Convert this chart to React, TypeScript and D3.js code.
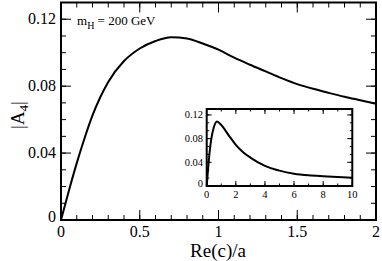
import React from "react";
import * as d3 from "d3";

const mainX = [0, 0.05, 0.1, 0.15, 0.2, 0.25, 0.3, 0.4, 0.5, 0.6, 0.7, 0.8, 0.9, 1.0, 1.1, 1.2, 1.3, 1.4, 1.5, 1.6, 1.7, 1.8, 1.9, 2.0];
const mainY = [0, 0.0175, 0.034, 0.049, 0.0625, 0.0735, 0.0825, 0.095, 0.1025, 0.107, 0.1093, 0.1085, 0.1055, 0.1018, 0.097, 0.0928, 0.0888, 0.0848, 0.0812, 0.0784, 0.076, 0.0737, 0.0716, 0.0695];

const insetX = [0, 0.1, 0.2, 0.3, 0.5, 0.7, 1, 1.5, 2, 2.5, 3, 4, 5, 6, 7, 8, 9, 10];
const insetY = [0, 0.03, 0.057, 0.077, 0.1, 0.109, 0.103, 0.086, 0.0695, 0.057, 0.048, 0.034, 0.026, 0.0208, 0.018, 0.0165, 0.0153, 0.014];

const mainXTicks = [0, 0.5, 1, 1.5, 2];
const mainXTickLabels = ["0", "0.5", "1", "1.5", "2"];
const mainYTicks = [0, 0.04, 0.08, 0.12];
const mainYTickLabels = ["0", "0.04", "0.08", "0.12"];
const insetXTicks = [0, 2, 4, 6, 8, 10];
const insetYTicks = [0, 0.04, 0.08, 0.12];
const insetYTickLabels = ["0", "0.04", "0.08", "0.12"];

const serif = "Liberation Serif, Times New Roman, DejaVu Serif, Noto Serif, serif";

export default function App() {
  const W = 382, H = 261;
  const mx = d3.scaleLinear().domain([0, 2]).range([61, 376]);
  const my = d3.scaleLinear().domain([0, 0.13]).range([220, 2.5]);
  const ix = d3.scaleLinear().domain([0, 10]).range([206.7, 352.3]);
  const iy = d3.scaleLinear().domain([0, 0.13]).range([186, 109]);

  const line = (xs: number[], ys: number[], sx: any, sy: any) =>
    d3.line<number>().x((_, i) => sx(xs[i])).y((_, i) => sy(ys[i])).curve(d3.curveMonotoneX)(xs as any) || "";

  const mainMinorX = d3.range(0, 2.0001, 0.1);
  const mainMinorY = d3.range(0, 0.13001, 0.01);
  const insetMinorX = d3.range(0, 10.001, 1);
  const insetMinorY = d3.range(0, 0.13, 0.04 / 3);

  const [mx0, mx1] = mx.range();
  const [my0, my1] = my.range();
  const [ix0, ix1] = ix.range();
  const [iy0, iy1] = iy.range();

  return (
    <svg width={W} height={H} style={{ position: "absolute", left: 0, top: 0, fontFamily: serif }}>
      <rect x={0} y={0} width={W} height={H} fill="#fff" />
      <g stroke="#000" strokeWidth={1}>
        {mainMinorX.map((v, i) => (
          <g key={"mmx" + i}>
            <line x1={mx(v)} x2={mx(v)} y1={my0} y2={my0 - 5} />
            <line x1={mx(v)} x2={mx(v)} y1={my1} y2={my1 + 5} />
          </g>
        ))}
        {mainXTicks.map((v, i) => (
          <g key={"mjx" + i}>
            <line x1={mx(v)} x2={mx(v)} y1={my0} y2={my0 - 10} />
            <line x1={mx(v)} x2={mx(v)} y1={my1} y2={my1 + 10} />
          </g>
        ))}
        {mainMinorY.map((v, i) => (
          <g key={"mmy" + i}>
            <line x1={mx0} x2={mx0 + 5} y1={my(v)} y2={my(v)} />
            <line x1={mx1} x2={mx1 - 5} y1={my(v)} y2={my(v)} />
          </g>
        ))}
        {mainYTicks.map((v, i) => (
          <g key={"mjy" + i}>
            <line x1={mx0} x2={mx0 + 10} y1={my(v)} y2={my(v)} />
            <line x1={mx1} x2={mx1 - 10} y1={my(v)} y2={my(v)} />
          </g>
        ))}
      </g>
      <path d={line(mainX, mainY, mx, my)} fill="none" stroke="#000" strokeWidth={2} />
      <rect x={mx0} y={my1} width={mx1 - mx0} height={my0 - my1} fill="none" stroke="#000" strokeWidth={2} />
      <g style={{ fontFamily: serif }} fontSize={16} fill="#000">
        {mainXTicks.map((v, i) => (
          <text key={"lx" + i} x={mx(v)} y={237} textAnchor="middle">{mainXTickLabels[i]}</text>
        ))}
        {mainYTicks.map((v, i) => (
          <text key={"ly" + i} x={56} y={my(v) + (v === 0 ? 2 : 5)} textAnchor="end">{mainYTickLabels[i]}</text>
        ))}
      </g>
      <text x={218} y={257} textAnchor="middle" style={{ fontFamily: serif }} fontSize={19}>Re(c)/a</text>
      <text transform="translate(24,115) rotate(-90)" textAnchor="middle" style={{ fontFamily: serif }} fontSize={19}>
        |A<tspan fontSize={13} dy={4}>4</tspan><tspan dy={-4}>|</tspan>
      </text>
      <text x={77} y={25} style={{ fontFamily: serif }} fontSize={13}>
        m<tspan fontSize={10} dy={4}>H</tspan><tspan dy={-4}> = 200 GeV</tspan>
      </text>

      <g stroke="#000" strokeWidth={1}>
        {insetMinorX.map((v, i) => (
          <g key={"imx" + i}>
            <line x1={ix(v)} x2={ix(v)} y1={iy0} y2={iy0 - 2.5} />
            <line x1={ix(v)} x2={ix(v)} y1={iy1} y2={iy1 + 2.5} />
          </g>
        ))}
        {insetXTicks.map((v, i) => (
          <g key={"ijx" + i}>
            <line x1={ix(v)} x2={ix(v)} y1={iy0} y2={iy0 - 5} />
            <line x1={ix(v)} x2={ix(v)} y1={iy1} y2={iy1 + 5} />
          </g>
        ))}
        {insetMinorY.map((v, i) => (
          <g key={"imy" + i}>
            <line x1={ix0} x2={ix0 + 2.5} y1={iy(v)} y2={iy(v)} />
            <line x1={ix1} x2={ix1 - 2.5} y1={iy(v)} y2={iy(v)} />
          </g>
        ))}
        {insetYTicks.map((v, i) => (
          <g key={"ijy" + i}>
            <line x1={ix0} x2={ix0 + 5} y1={iy(v)} y2={iy(v)} />
            <line x1={ix1} x2={ix1 - 5} y1={iy(v)} y2={iy(v)} />
          </g>
        ))}
      </g>
      <path d={line(insetX, insetY, ix, iy)} fill="none" stroke="#000" strokeWidth={2} />
      <rect x={ix0} y={iy1} width={ix1 - ix0} height={iy0 - iy1} fill="none" stroke="#000" strokeWidth={2} />
      <g style={{ fontFamily: serif }} fontSize={10.5} fill="#000">
        {insetXTicks.map((v, i) => (
          <text key={"ilx" + i} x={ix(v)} y={198} textAnchor="middle">{String(v)}</text>
        ))}
        {insetYTicks.map((v, i) => (
          <text key={"ily" + i} x={203} y={iy(v) + (v === 0 ? 1 : 3.5)} textAnchor="end">{insetYTickLabels[i]}</text>
        ))}
      </g>
    </svg>
  );
}
